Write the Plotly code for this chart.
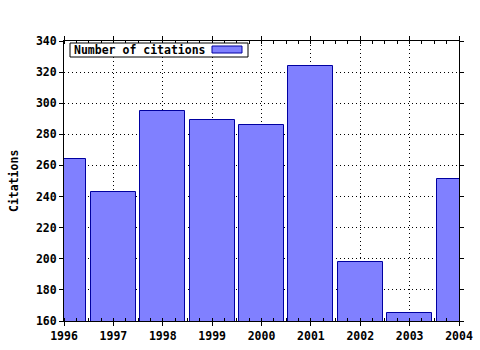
import plotly.graph_objects as go

years = [1996, 1997, 1998, 1999, 2000, 2001, 2002, 2003, 2004]
citations = [264, 243, 295, 289, 286, 324, 198, 165, 251]
y_ticks = [160, 180, 200, 220, 240, 260, 280, 300, 320, 340]
series_name = "Number of citations"
y_title = "Citations"

FONT = dict(family="DejaVu Sans Mono", size=11.5, color="black", weight="bold")
FILL = "#8080ff"
EDGE = "#0000a0"

fig = go.Figure()
fig.add_trace(go.Bar(
    x=years, y=citations, width=0.91, name=series_name,
    marker=dict(color=FILL, line=dict(color=EDGE, width=1)),
    showlegend=False,
))

axis_common = dict(
    showline=True, linecolor="black", linewidth=1, mirror="ticks",
    showgrid=True, gridcolor="black", gridwidth=1, griddash="1px,3px",
    zeroline=False, ticks="outside", ticklen=4, tickcolor="black",
    tickfont=FONT, automargin=False,
)

fig.update_xaxes(
    range=[1996, 2004], tickmode="array", tickvals=years,
    ticktext=[str(y) for y in years],
    minor=dict(dtick=0.25, tick0=1996, ticks="inside", ticklen=3, tickcolor="black", showgrid=False),
    **axis_common,
)
fig.update_yaxes(
    range=[160, 340], tickmode="array", tickvals=y_ticks,
    ticktext=[str(v) for v in y_ticks],
    **axis_common,
)

px = lambda p: (p - 64) / 395
py = lambda p: (321 - p) / 280

# legend box (text then swatch, as in reference)
fig.add_shape(type="rect", xref="paper", yref="paper",
              x0=px(70), x1=px(248), y0=py(57), y1=py(43),
              line=dict(color="black", width=1), fillcolor="white", layer="above")
fig.add_shape(type="rect", xref="paper", yref="paper",
              x0=px(212), x1=px(242), y0=py(53), y1=py(46),
              line=dict(color=EDGE, width=1), fillcolor=FILL, layer="above")
fig.add_annotation(xref="paper", yref="paper", x=px(72), y=py(50),
                   xanchor="left", yanchor="middle", text=series_name,
                   showarrow=False, font=FONT)

fig.add_annotation(xref="paper", yref="paper", x=px(14), y=0.5,
                   xanchor="center", yanchor="middle", text=y_title,
                   textangle=-90, showarrow=False, font=FONT)

fig.update_layout(
    width=480, height=350,
    margin=dict(l=64, r=21, t=41, b=29),
    plot_bgcolor="white", paper_bgcolor="white",
    bargap=0,
)

fig.write_html("out.html")
